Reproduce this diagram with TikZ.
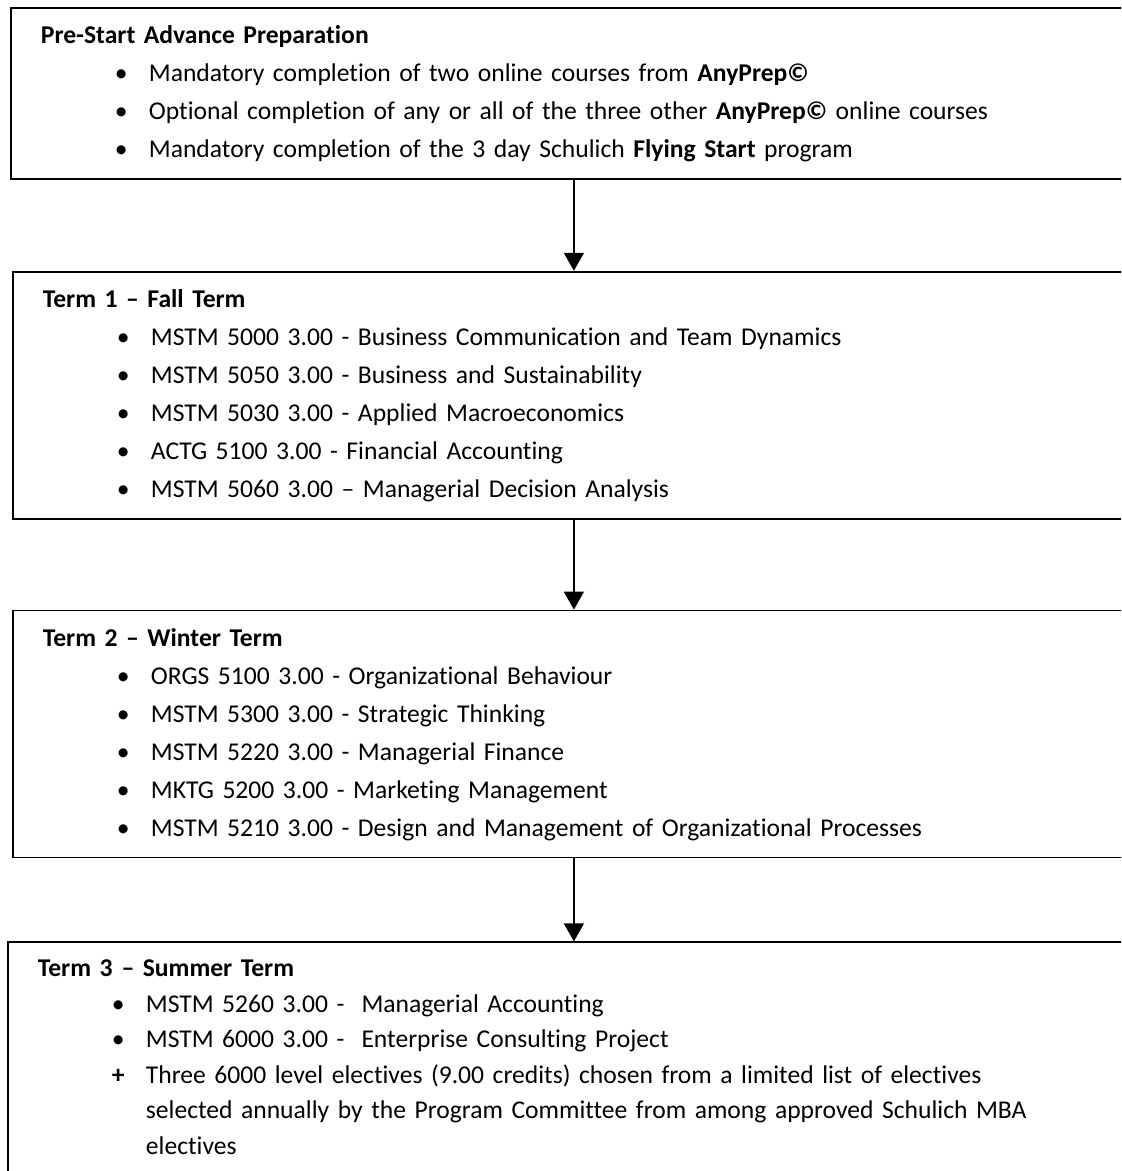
\documentclass[tikz,border=0pt]{standalone}
\usepackage{fontspec}
\setmainfont{Carlito}[Ligatures=NoCommon, WordSpace=0.9]
\usetikzlibrary{positioning,arrows.meta}

\newcommand\bitem[1]{\\\strut\hspace*{37pt}\makebox[17pt][l]{•}#1}
\newcommand\pitem[1]{\\\strut\hspace*{37pt}\makebox[17pt][l]{\textbf{+}}#1}
\newcommand\citem[1]{\\\strut\hspace*{54pt}#1}

\tikzset{
  termbox/.style={draw, line width=0.9pt, anchor=north west, align=left,
    inner xsep=15pt, inner ysep=4.75pt, font=\fontsize{12.8}{19}\selectfont},
  nextarrow/.style={line width=0.8pt, -{Triangle[width=10pt,length=9pt]}}
}

\begin{document}
\begin{tikzpicture}[x=0.5pt,y=-0.5pt]
\useasboundingbox (0,0) rectangle (1121,1171);
\clip (0,0) rectangle (1121,1171);
% four stages, each box runs past the right edge
\node[termbox, text width=533pt] (pre) at (10,7) {\strut\textbf{Pre-Start Advance Preparation}
  \bitem{Mandatory completion of two online courses from \textbf{AnyPrep©}}
  \bitem{Optional completion of any or all of the three other \textbf{AnyPrep©} online courses}
  \bitem{Mandatory completion of the 3 day Schulich \textbf{Flying Start} program}};
\node[termbox, text width=531pt, below=45.5pt of pre.south west, anchor=north west, xshift=1pt] (fall) {\strut\textbf{Term 1 – Fall Term}
  \bitem{MSTM 5000 3.00 - Business Communication and Team Dynamics}
  \bitem{MSTM 5050 3.00 - Business and Sustainability}
  \bitem{MSTM 5030 3.00 - Applied Macroeconomics}
  \bitem{ACTG 5100 3.00 - Financial Accounting}
  \bitem{MSTM 5060 3.00 – Managerial Decision Analysis}};
\node[termbox, text width=531pt, below=45pt of fall.south west, anchor=north west] (winter) {\strut\textbf{Term 2 – Winter Term}
  \bitem{ORGS 5100 3.00 - Organizational Behaviour}
  \bitem{MSTM 5300 3.00 - Strategic Thinking}
  \bitem{MSTM 5220 3.00 - Managerial Finance}
  \bitem{MKTG 5200 3.00 - Marketing Management}
  \bitem{MSTM 5210 3.00 - Design and Management of Organizational Processes}};
\node[termbox, text width=536pt, font=\fontsize{12.8}{17.75}\selectfont, below=41.5pt of winter.south west, anchor=north west, xshift=-2.5pt] (summer) {\strut\textbf{Term 3\hspace{0.35em}– Summer Term}
  \bitem{MSTM 5260 3.00 -~ Managerial Accounting}
  \bitem{MSTM 6000 3.00 -~ Enterprise Consulting Project}
  \pitem{Three 6000 level electives (9.00 credits) chosen from a limited list of electives}
  \citem{\makebox[443.5pt][s]{selected annually by the Program Committee from among approved Schulich MBA}}
  \citem{electives}};
% arrows
\draw[nextarrow] (pre.south) -- (pre.south |- fall.north);
\draw[nextarrow] (fall.south) -- (fall.south |- winter.north);
\draw[nextarrow] (winter.south) -- (winter.south |- summer.north);
\end{tikzpicture}
\end{document}
